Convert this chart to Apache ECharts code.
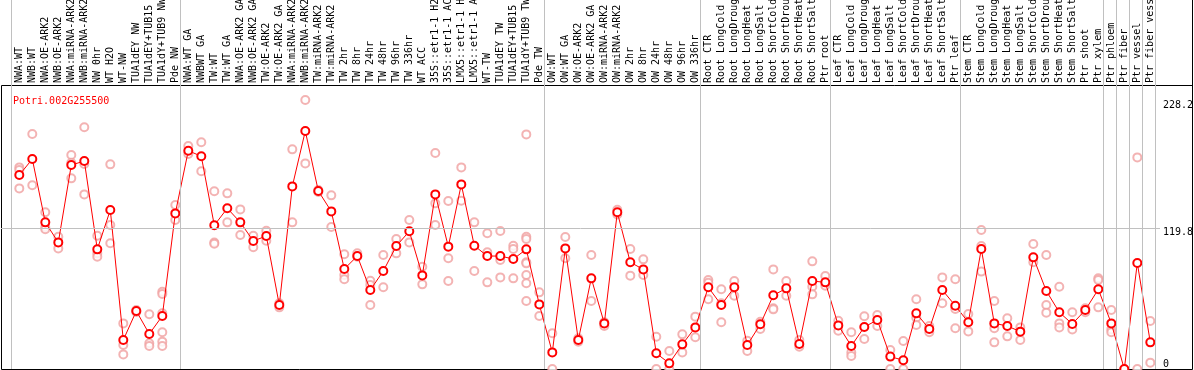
<!DOCTYPE html>
<html>
<head>
<meta charset="utf-8">
<script src="https://cdn.jsdelivr.net/npm/echarts@6/dist/echarts.min.js"></script>
<style>
html,body{margin:0;padding:0;background:#fff;}
#chart{width:1194px;height:370px;}
</style>
</head>
<body>
<div id="chart"></div>
<script>
const geneName = 'Potri.002G255500';

const categories = [
  'NWA:WT','NWB:WT','NWA:OE-ARK2','NWB:OE-ARK2','NWA:miRNA-ARK2','NWB:miRNA-ARK2','NW 0hr','WT H2O','WT-NW',
  'TUA1dEY NW','TUA1dEY+TUB15 NW','TUA1dY+TUB9 NW','Pde NW',
  'NWA:WT GA','NWBWT GA','TW:WT','TW:WT GA','NWA:OE-ARK2 GA','NWB:OE-ARK2 GA','TW:OE-ARK2','TW:OE-ARK2 GA',
  'NWA:miRNA-ARK2 GA','NWB:miRNA-ARK2 GA','TW:miRNA-ARK2','TW:miRNA-ARK2 GA',
  'TW 2hr','TW 8hr','TW 24hr','TW 48hr','TW 96hr','TW 336hr','WT ACC',
  '35S::etr1-1 H2O','35S::etr1-1 ACC','LMX5::etr1-1 H2O','LMX5::etr1-1 ACC',
  'WT-TW','TUA1dEY TW','TUA1dEY+TUB15 TW','TUA1dY+TUB9 TW','Pde TW',
  'OW:WT','OW:WT GA','OW:OE-ARK2','OW:OE-ARK2 GA','OW:miRNA-ARK2','OW:miRNA-ARK2 GA',
  'OW 2hr','OW 8hr','OW 24hr','OW 48hr','OW 96hr','OW 336hr',
  'Root CTR','Root LongCold','Root LongDrought','Root LongHeat','Root LongSalt',
  'Root ShortCold','Root ShortDrought','Root ShortHeat','Root ShortSalt','Ptr root',
  'Leaf CTR','Leaf LongCold','Leaf LongDrought','Leaf LongHeat','Leaf LongSalt',
  'Leaf ShortCold','Leaf ShortDrought','Leaf ShortHeat','Leaf ShortSalt','Ptr leaf',
  'Stem CTR','Stem LongCold','Stem LongDrought','Stem LongHeat','Stem LongSalt',
  'Stem ShortCold','Stem ShortDrought','Stem ShortHeat','Stem ShortSalt','Ptr shoot',
  'Ptr xylem','Ptr phloem','Ptr fiber','Ptr vessel','Ptr fiber vessel'
];

const means = [
  164.5,178.1,124.4,107.4,173.0,176.4,101.5,134.9,24.6,49.2,29.7,45.0,132.0,
  185.2,180.4,121.9,136.3,124.4,108.6,112.8,54.3,154.9,201.9,151.0,133.7,
  84.8,95.8,67.0,83.1,104.3,116.8,79.4,148.1,103.8,156.6,104.6,95.8,95.8,93.3,101.5,54.8,
  14.1,102.3,24.6,76.9,38.7,132.9,90.5,84.5,13.3,4.8,20.9,35.3,
  69.3,54.3,69.3,20.4,37.9,62.5,68.4,21.2,74.6,73.5,
  37.0,19.5,35.6,41.6,10.5,7.4,47.2,33.9,67.0,53.7,
  39.6,101.8,38.7,36.5,31.7,94.7,66.2,48.1,38.2,50.0,
  67.6,38.7,0,89.9,22.6
];

const replicates = [
  [171.0,168.8,153.2],[199.3,155.8],[132.9,120.2,118.5],[112.2,102.3],[181.5,175.0,161.7],
  [205.0,173.9,148.1],[113.1,98.1,95.3],[173.6,122.1,106.6],[38.7,20.4,12.4],[50.0,48.3],
  [46.4,21.8,19.5],[65.6,63.6,47.2,31.1,23.2,19.5],[139.1,126.4],
  [189.1,182.4],[192.3,167.7],[150.7,107.2,106.3],[149.0,124.4],[135.4,113.7],[113.1,103.2],
  [117.3,108.8],[55.7,52.3],[186.3,124.4],[228.2,174.4],[151.8,150.1],[147.3,120.4],
  [97.3,79.7,76.1],[98.1,95.3],[74.9,71.2,54.3],[96.7,69.3],[110.3,98.1],[126.4,107.4],
  [86.8,71.8],[183.2,140.5,122.1],[142.5,93.9,74.6],[171.0,142.8],[124.4,83.1],
  [115.1,99.0,73.5],[117.0,92.5,77.7],[104.6,101.8,76.9],
  [199.0,112.2,110.3,90.5,89.6,79.7,72.7,57.7],[65.0,45.0],
  [30.3,0],[112.0,93.9],[26.0,23.2],[96.7,57.7],[39.6,36.5],[131.0,135.0],
  [101.8,79.2],[93.0,79.7],[27.4,0],[15.3,0],[29.4,14.1],[44.4,26.9],
  [75.5,73.2,59.1],[67.6,55.7,39.6],[74.6,62.2],[24.0,15.3],[40.1,33.9],
  [84.5,51.5,50.6],[74.6,62.2],[24.6,18.9],[91.3,69.8,63.3],[78.9,70.7],
  [41.0,32.5],[31.1,13.9,11.0],[44.7,25.4],[45.8,36.5],[16.1,0],
  [23.7,0],[59.1,43.5,37.3],[36.5,31.1],[77.7,55.7],[76.1,50.9,34.5],
  [46.6,31.9],[117.9,104.3,82.6],[57.7,34.5,22.6],[43.0,27.7],[35.3,24.6],
  [106.0,90.5],[96.7,54.3,47.8],[69.8,38.7,35.3],[48.1,33.6],[51.5,48.1],
  [76.9,75.5,52.3],[50.0,33.6,31.1],[0],[179.5,0],[40.7,5.4]
];

// y-axis tick labels
const yTicksTop = [119.8, 228.2];
const yTicksBottom = [0];
const gridValue = 119.8;
// last category index of each group (separator lines drawn just after)
const groupEnds = [-1, 12, 40, 52, 62, 72, 83, 84, 85, 86, 87];

const FONT = '"DejaVu Sans Mono", "Liberation Mono", monospace';
const chart = echarts.init(document.getElementById('chart'), null, {renderer: 'canvas'});

const lineData = means.map((v, i) => [i, v]);
const repData = [];
replicates.forEach((reps, i) => reps.forEach(v => repData.push([i, v])));

const option = {
  animation: false,
  backgroundColor: '#ffffff',
  title: {
    text: geneName, left: 8, top: 91,
    textStyle: {color: '#ff0000', fontSize: 10, fontWeight: 'normal', fontFamily: FONT}
  },
  grid: {left: 1, right: 34, top: 0, bottom: 1, containLabel: false, outerBoundsMode: 'none'},
  xAxis: {
    type: 'value', min: -1.4077, max: 87.746, position: 'top', offset: -85,
    axisLine: {show: false}, axisTick: {show: false}, splitLine: {show: false},
    axisLabel: {
      customValues: categories.map((c, i) => i),
      formatter: v => categories[Math.round(v)] || '',
      rotate: 90, margin: 2, fontSize: 10, fontFamily: FONT, color: '#000', hideOverlap: false
    }
  },
  yAxis: [
    {
      type: 'value', min: 0, max: 313, position: 'right',
      axisLine: {show: false}, axisTick: {show: false}, splitLine: {show: false},
      axisLabel: {customValues: yTicksTop, verticalAlign: 'top', margin: 3, fontSize: 10, fontFamily: FONT, color: '#000'}
    },
    {
      type: 'value', min: 0, max: 313, position: 'right',
      axisLine: {show: false}, axisTick: {show: false}, splitLine: {show: false},
      axisLabel: {customValues: yTicksBottom, verticalAlign: 'bottom', margin: 3, fontSize: 10, fontFamily: FONT, color: '#000'}
    }
  ],
  series: [
    {
      type: 'line', data: [], silent: true, z: 1,
      markLine: {
        silent: true, symbol: 'none', animation: false,
        label: {show: false},
        lineStyle: {color: '#c0c0c0', width: 1, type: 'solid'},
        data: groupEnds.map(g => ({xAxis: g + 0.36})).concat([{yAxis: gridValue}])
      }
    },
    {
      type: 'scatter', data: repData, z: 2, clip: false,
      symbol: 'emptyCircle', symbolSize: 8,
      itemStyle: {color: '#f0a0a0', borderColor: '#f0a0a0', borderWidth: 1.3}
    },
    {
      type: 'line', data: lineData, z: 3, clip: false,
      symbol: 'emptyCircle', symbolSize: 8, showAllSymbol: true,
      lineStyle: {color: '#ff0000', width: 1},
      itemStyle: {color: '#ff0000', borderColor: '#ff0000', borderWidth: 1.6}
    }
  ],
  graphic: [
    {type: 'line', shape: {x1: 1.5, y1: 85.5, x2: 1192.5, y2: 85.5}, style: {stroke: '#000', lineWidth: 1}, silent: true},
    {type: 'line', shape: {x1: 1.5, y1: 85.5, x2: 1.5, y2: 369.5}, style: {stroke: '#000', lineWidth: 1}, silent: true},
    {type: 'line', shape: {x1: 1.5, y1: 369.5, x2: 1192.5, y2: 369.5}, style: {stroke: '#000', lineWidth: 1}, silent: true},
    {type: 'line', shape: {x1: 1192.5, y1: 0, x2: 1192.5, y2: 369.5}, style: {stroke: '#000', lineWidth: 1}, silent: true}
  ]
};
chart.setOption(option);
</script>
</body>
</html>
